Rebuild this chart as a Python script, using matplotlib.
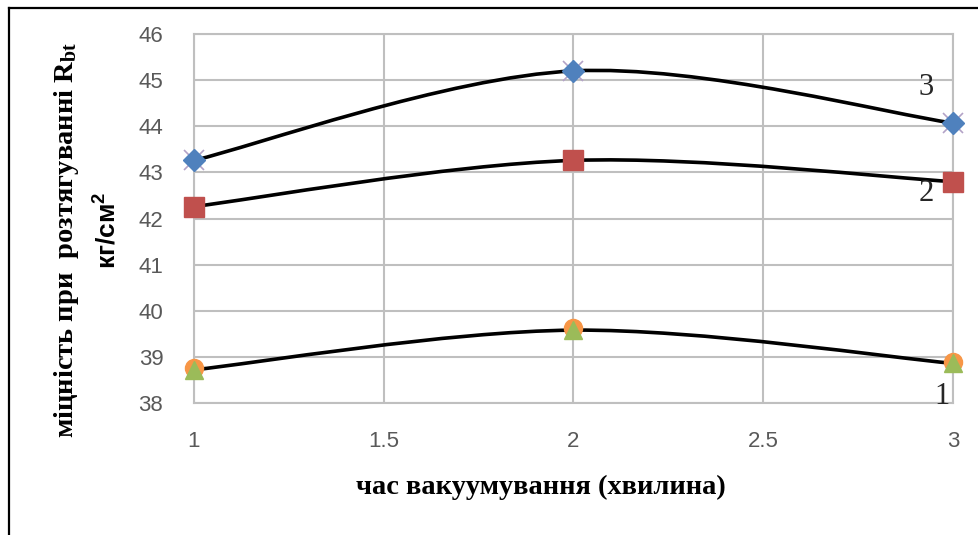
import numpy as np
import matplotlib
matplotlib.use("Agg")
import matplotlib.pyplot as plt
from matplotlib.path import Path
from matplotlib.patches import PathPatch
from matplotlib.lines import Line2D

# час вакуумування, хв
x = [1, 2, 3]
# криві 1..3 (міцність при розтягуванні)
s3_diamond = [43.26, 45.2, 44.07]
s3_cross = [43.26, 45.2, 44.07]
s2_square = [42.26, 43.26, 42.8]
s1_triangle = [38.72, 39.58, 38.86]
s1_circle = [38.76, 39.63, 38.9]

curve_labels = ["1", "2", "3"]
xticks = [1, 1.5, 2, 2.5, 3]
yticks = [38, 39, 40, 41, 42, 43, 44, 45, 46]


def smooth(xs, ys):
    # excel-like smoothed line: catmull-rom as cubic bezier segments
    p = np.column_stack([xs, ys]).astype(float)
    n = len(p)
    verts = [p[0]]
    codes = [Path.MOVETO]
    for i in range(n - 1):
        p0 = p[max(i - 1, 0)]
        p1 = p[i]
        p2 = p[i + 1]
        p3 = p[min(i + 2, n - 1)]
        verts += [p1 + (p2 - p0) / 6, p2 - (p3 - p1) / 6, p2]
        codes += [Path.CURVE4] * 3
    return Path(verts, codes)


fig = plt.figure(figsize=(9.79, 5.35), dpi=100)
ax = fig.add_axes([0.198, 0.2467, 0.7755, 0.6897])

grid_c = "#BFBFBF"
for ys in [s3_diamond, s2_square, s1_triangle]:
    ax.add_patch(PathPatch(smooth(x, ys), fill=False, edgecolor="black",
                           lw=2.6, zorder=3))

mk = dict(ls="none", clip_on=False)
ax.plot(x, s3_cross, marker="x", ms=14, mew=1.2, color="#B3A2C7", zorder=4, **mk)
ax.plot(x, s3_diamond, marker="D", ms=11.5, color="#4F81BD", zorder=5, **mk)
ax.plot(x, s2_square, marker="s", ms=14, color="#C0504D", zorder=5, **mk)
ax.plot(x, s1_circle, marker="o", ms=13, color="#F79646", zorder=4, **mk)
ax.plot(x, s1_triangle, marker="^", ms=13, color="#9BBB59", zorder=5, **mk)

ax.set_xlim(1, 3)
ax.set_ylim(38, 46)
ax.set_xticks(xticks)
ax.set_xticklabels([f"{t:g}" for t in xticks])
ax.set_yticks(yticks)
ax.grid(True, color=grid_c, lw=1.5)
ax.set_axisbelow(True)
for sp in ax.spines.values():
    sp.set_color(grid_c)
    sp.set_linewidth(1.5)
ax.tick_params(length=0, labelsize=16, labelcolor="#595959", pad=22)
ax.tick_params(axis="x", pad=20)
for lab in ax.get_xticklabels() + ax.get_yticklabels():
    lab.set_fontfamily("Liberation Sans")

ax.text(2.93, 44.85, curve_labels[2], fontsize=22, family="Liberation Serif",
        color="#262626", ha="center", va="center")
ax.text(2.93, 42.55, curve_labels[1], fontsize=22, family="Liberation Serif",
        color="#262626", ha="center", va="center")
ax.text(2.97, 38.15, curve_labels[0], fontsize=22, family="Liberation Serif",
        color="#262626", ha="center", va="center")

fig.text(0.068, 0.551, "міцність при  розтягуванні $\\mathregular{R_{bt}}$",
         rotation=90, fontsize=20.5, fontweight="bold", family="Liberation Serif",
         ha="center", va="center")
fig.text(0.108, 0.57, "кг/см$^\\mathregular{2}$", rotation=90, fontsize=19,
         fontweight="bold", family="Liberation Sans", ha="center", va="center")
fig.text(0.552, 0.088, "час вакуумування (хвилина)", fontsize=20.5,
         fontweight="bold", family="Liberation Serif", ha="center", va="center")

# chart border (left and top visible)
fig.add_artist(Line2D([0.009, 0.009], [0, 0.985], color="black", lw=1.6,
                      transform=fig.transFigure))
fig.add_artist(Line2D([0.009, 1.0], [0.985, 0.985], color="black", lw=1.6,
                      transform=fig.transFigure))

fig.savefig("out.png", dpi=100)
